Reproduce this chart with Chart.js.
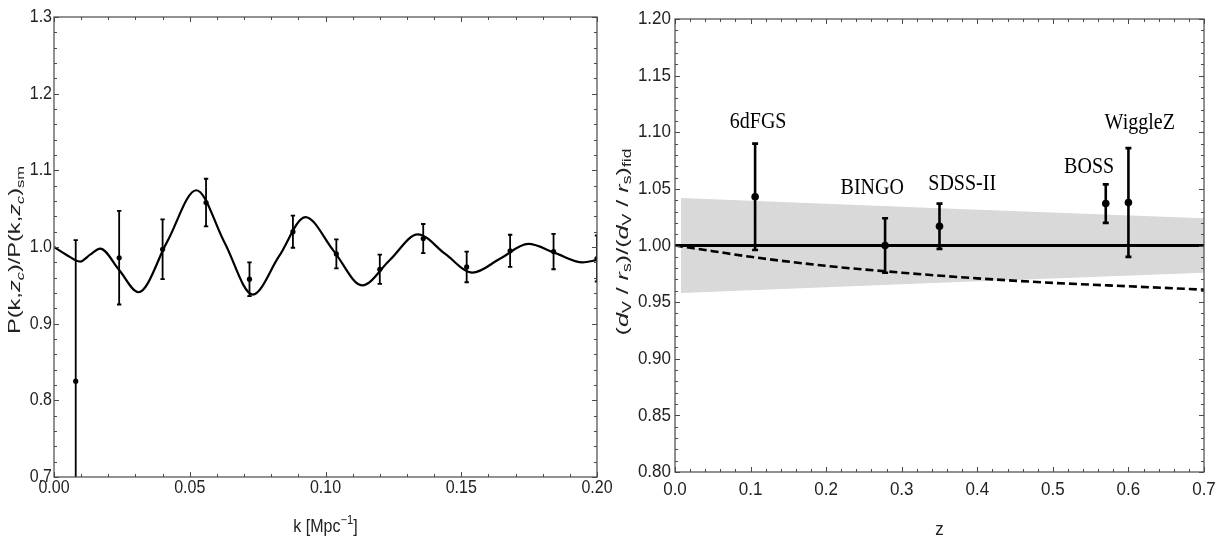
<!DOCTYPE html>
<html><head><meta charset="utf-8">
<script src="https://cdn.jsdelivr.net/npm/chart.js@4.4.1/dist/chart.umd.min.js"></script>
<style>
html,body{margin:0;padding:0;background:#fff;}
body{width:1226px;height:542px;position:relative;overflow:hidden;}
#c1{position:absolute;left:0;top:0;}
#c2{position:absolute;left:610px;top:0;}
</style></head>
<body>
<canvas id="c1" width="630" height="542"></canvas>
<canvas id="c2" width="616" height="542"></canvas>
<script>
// ---------- Left panel data ----------
const kPoints = [0.008,0.024,0.040,0.056,0.072,0.088,0.104,0.120,0.136,0.152,0.168,0.184,0.200];
const pRatio  = [0.825,0.986,0.997,1.058,0.958,1.020,0.991,0.971,1.011,0.974,0.995,0.994,0.985];
const pErr    = [0.184,0.061,0.039,0.031,0.022,0.021,0.019,0.019,0.019,0.020,0.021,0.023,0.030];
const kCurve  = [0.000,0.0045,0.0096,0.0133,0.0170,0.0240,0.0311,0.0417,0.0524,0.0628,0.0732,0.0829,0.0926,0.1030,0.1135,0.1237,0.1340,0.1441,0.1541,0.1644,0.1747,0.1847,0.1947,0.2000];
const pCurve  = [1.000,0.990,0.981,0.990,0.998,0.970,0.941,1.007,1.074,1.006,0.938,0.988,1.039,0.995,0.950,0.983,1.0165,0.991,0.9665,0.985,1.004,0.992,0.980,0.983];

// ---------- Right panel data ----------
const surveys  = ['6dFGS','BINGO','SDSS-II','BOSS','WiggleZ'];
const zPoints  = [0.106,0.278,0.350,0.570,0.600];
const dvRatio  = [1.043,1.000,1.017,1.037,1.038];
const dvErr    = [0.047,0.024,0.020,0.017,0.048];
const zBand    = [0.008,0.350,0.700];
const bandUp   = [1.042,1.033,1.024];
const bandLow  = [0.958,0.967,0.976];
const zFid     = [0.0,0.7];
const fidLine  = [1.0,1.0];
const zDash    = [0.0,0.05,0.1,0.2,0.3,0.4,0.5,0.6,0.7];
const dashVal  = [1.000,0.995,0.990,0.982,0.976,0.971,0.967,0.964,0.961];
// label anchors (data units)
const labelZ   = [0.110,0.261,0.380,0.548,0.615];
const labelY   = [1.109,1.051,1.055,1.070,1.108];

const xy = (xs, ys) => xs.map((v,i)=>({x:v,y:ys[i]}));
const SANS = "'Liberation Sans', Arial, sans-serif";
const SERIF = "'Liberation Serif', 'Times New Roman', serif";

function inwardFrame(cfg){
  return { id:'inwardFrame',
  afterDraw(chart){
    const {ctx, chartArea:a, scales:{x,y}} = chart;
    const majL = 5, minL = 3;
    const vals = s => { const v = s.ticks.map(t=>t.value); const out=[];
      for(let i=0;i<v.length;i++){ out.push([v[i],majL]);
        if(i<v.length-1) for(let j=1;j<5;j++) out.push([v[i]+(v[i+1]-v[i])*j/5,minL]); }
      return out; };
    ctx.save();
    ctx.strokeStyle='#4a4a4a'; ctx.lineWidth=1.2;
    ctx.strokeRect(a.left,a.top,a.right-a.left,a.bottom-a.top);
    ctx.lineWidth=1;
    ctx.beginPath();
    for(const [v,L] of vals(x)){ const p=Math.round(x.getPixelForValue(v))+0.5;
      ctx.moveTo(p,a.bottom); ctx.lineTo(p,a.bottom-L); ctx.moveTo(p,a.top); ctx.lineTo(p,a.top+L); }
    for(const [v,L] of vals(y)){ const p=Math.round(y.getPixelForValue(v))+0.5;
      ctx.moveTo(a.left,p); ctx.lineTo(a.left+L,p); ctx.moveTo(a.right,p); ctx.lineTo(a.right-L,p); }
    ctx.stroke();
    // tick labels (stretched vertically like the original)
    ctx.fillStyle='#222';
    ctx.font = cfg.fs + 'px ' + SANS;
    ctx.textAlign='center'; ctx.textBaseline='middle';
    for(const t of x.ticks){ ctx.save(); ctx.translate(x.getPixelForValue(t.value), cfg.xLabY);
      ctx.scale(1,cfg.sy); ctx.fillText(Number(t.value).toFixed(cfg.xdec),0,0); ctx.restore(); }
    ctx.textAlign='right';
    for(const t of y.ticks){ ctx.save(); ctx.translate(a.left-cfg.yPad, y.getPixelForValue(t.value));
      ctx.scale(1,cfg.sy); ctx.fillText(Number(t.value).toFixed(cfg.ydec),0,0); ctx.restore(); }
    ctx.restore();
  }};
}

function errorBars(xs, ys, es, cap, lw){
  return { id:'errorBars', afterDatasetsDraw(chart){
    const {ctx, chartArea:a, scales:{x,y}} = chart;
    ctx.save(); ctx.beginPath(); ctx.rect(a.left,a.top,a.right-a.left,a.bottom-a.top); ctx.clip();
    ctx.strokeStyle='#000'; ctx.lineWidth=lw; ctx.beginPath();
    xs.forEach((xv,i)=>{ const px=x.getPixelForValue(xv);
      const y1=y.getPixelForValue(ys[i]-es[i]), y2=y.getPixelForValue(ys[i]+es[i]);
      ctx.moveTo(px,y1); ctx.lineTo(px,y2);
      ctx.moveTo(px-cap,y1); ctx.lineTo(px+cap,y1);
      ctx.moveTo(px-cap,y2); ctx.lineTo(px+cap,y2); });
    ctx.stroke(); ctx.restore(); } };
}

function drawRich(ctx, segs, size, family, targetLen){
  const parts = segs.map(([t,st])=>{
    const small = st.includes('sub')||st.includes('sup');
    const fs = small? size*0.7 : size;
    const font = (st.startsWith('i')?'italic ':'') + fs + 'px ' + family;
    ctx.font = font;
    return {t,font,w:ctx.measureText(t).width, dy: st.includes('sub')? size*0.3 : (st.includes('sup')? -size*0.38 : 0)};
  });
  const total = parts.reduce((s,p)=>s+p.w,0);
  const sx = targetLen ? targetLen/total : 1;
  ctx.scale(sx,1);
  let x = -total/2;
  ctx.textBaseline='middle'; ctx.textAlign='left';
  for(const p of parts){ ctx.font=p.font; ctx.fillText(p.t,x,p.dy); x+=p.w; }
}

function titles(cfg){
  return { id:'titles', afterDraw(chart){
    const {ctx, chartArea:a} = chart;
    ctx.save(); ctx.fillStyle='#222';
    ctx.save(); ctx.translate((a.left+a.right)/2, cfg.xTitleY); ctx.scale(1,1.1);
    drawRich(ctx, cfg.xSegs, cfg.xSize, SANS, cfg.xLen); ctx.restore();
    ctx.save(); ctx.translate(cfg.yTitleX, cfg.yTitleC); ctx.rotate(-Math.PI/2);
    drawRich(ctx, cfg.ySegs, cfg.ySize, SANS, cfg.yLen); ctx.restore();
    ctx.restore(); } };
}

function baseScales(xmin,xmax,xstep,ymin,ymax,ystep,xh,yw){
  return {
    x:{type:'linear',min:xmin,max:xmax,
       ticks:{stepSize:xstep,autoSkip:false,display:false},
       grid:{display:false,drawTicks:false},border:{display:false},
       afterFit:s=>{s.height=xh;s.paddingLeft=0;s.paddingRight=0;}},
    y:{type:'linear',min:ymin,max:ymax,
       ticks:{stepSize:ystep,autoSkip:false,display:false},
       grid:{display:false,drawTicks:false},border:{display:false},
       afterFit:s=>{s.width=yw;s.paddingTop=0;s.paddingBottom=0;}}
  };
}

const common = {responsive:false,animation:false,events:[],
  plugins:{legend:{display:false},tooltip:{enabled:false}}};

// ---------- Left chart ----------
new Chart(document.getElementById('c1'),{
  type:'scatter',
  data:{datasets:[
    {data:xy(kCurve,pCurve),showLine:true,cubicInterpolationMode:'monotone',borderColor:'#000',borderWidth:2.2,pointRadius:0,order:5},
    {data:xy(kPoints,pRatio),pointRadius:2.6,pointBackgroundColor:'#000',pointBorderWidth:0,order:1}
  ]},
  options:{...common,
    layout:{padding:{top:17,right:33,left:0,bottom:0}},
    scales:baseScales(0,0.2,0.05,0.7,1.3,0.1,65,54)},
  plugins:[inwardFrame({fs:16,sy:1.12,xLabY:488,yPad:2,xdec:2,ydec:1}), errorBars(kPoints,pRatio,pErr,2.2,1.8),
    titles({xTitleY:527,xSize:16,xLen:null,
      xSegs:[['k [Mpc',''],['−1','sup'],[']','']],
      yTitleX:16,yTitleC:250,ySize:16,yLen:168,
      ySegs:[['P(k,',''],['z','i'],['c','isub'],[')/P(k,',''],['z','i'],['c','isub'],[')',''],['sm','sub']]})]
});

// ---------- Right chart ----------
const surveyLabels = { id:'surveyLabels', afterDatasetsDraw(chart){
  const {ctx, scales:{x,y}} = chart;
  ctx.save(); ctx.fillStyle='#000'; ctx.textAlign='center'; ctx.textBaseline='middle';
  ctx.font = '20px ' + SERIF;
  surveys.forEach((s,i)=>{ ctx.save(); ctx.translate(x.getPixelForValue(labelZ[i]), y.getPixelForValue(labelY[i]));
    ctx.scale(1,1.2); ctx.fillText(s,0,0); ctx.restore(); });
  ctx.restore(); } };

new Chart(document.getElementById('c2'),{
  type:'scatter',
  data:{datasets:[
    {data:xy(zBand,bandLow),showLine:true,borderWidth:0,pointRadius:0,fill:false,order:10},
    {data:xy(zBand,bandUp),showLine:true,borderWidth:0,pointRadius:0,fill:'-1',backgroundColor:'#d9d9d9',order:9},
    {data:xy(zDash,dashVal),showLine:true,cubicInterpolationMode:'monotone',borderColor:'#000',borderWidth:2.6,borderDash:[8,4],pointRadius:0,order:5},
    {data:xy(zFid,fidLine),showLine:true,borderColor:'#000',borderWidth:2.8,pointRadius:0,order:4},
    {data:xy(zPoints,dvRatio),pointRadius:3.8,pointBackgroundColor:'#000',pointBorderWidth:0,order:1}
  ]},
  options:{...common,
    layout:{padding:{top:19,right:22,left:0,bottom:0}},
    scales:baseScales(0,0.7,0.1,0.8,1.2,0.05,70,65)},
  plugins:[inwardFrame({fs:17,sy:1.1,xLabY:490,yPad:4,xdec:1,ydec:2}), errorBars(zPoints,dvRatio,dvErr,3,2.6), surveyLabels,
    titles({xTitleY:530,xSize:17,xLen:null,xSegs:[['z','']],
      yTitleX:13,yTitleC:242,ySize:17,yLen:187,
      ySegs:[['(',''],['d','i'],['V','sub'],[' / ',''],['r','i'],['s','sub'],[')/(',''],['d','i'],['V','sub'],[' / ',''],['r','i'],['s','sub'],[')',''],['fid','sub']]})]
});
</script>
</body></html>
